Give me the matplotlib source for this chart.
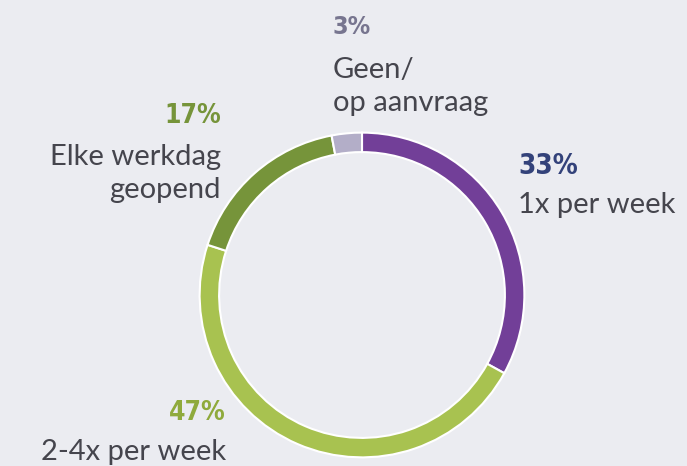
import matplotlib
matplotlib.use("Agg")
import matplotlib.pyplot as plt
from matplotlib import font_manager

categories = ["1x per week", "2-4x per week", "Elke werkdag\ngeopend", "Geen/\nop aanvraag"]
values = [33, 47, 17, 3]
pct_labels = ["33%", "47%", "17%", "3%"]
colors = ["#723f98", "#a8c250", "#76943a", "#b3aec8"]
pct_colors = ["#33427a", "#8faa3c", "#76943a", "#77758f"]

W, H = 687, 466
bg = "#ebecf1"
fig = plt.figure(figsize=(W / 100, H / 100), dpi=100, facecolor=bg)

# donut axes (center ~ (362,295) px, radius ~164 px)
cx, cy, r = 362, 295, 164
ax = fig.add_axes([(cx - r) / W, (H - cy - r) / H, 2 * r / W, 2 * r / H])
ax.set_facecolor(bg)
ax.pie(values, colors=colors, startangle=90, counterclock=False, radius=1,
       wedgeprops=dict(width=0.12, edgecolor="white", linewidth=1.5))
ax.set_xlim(-1.01, 1.01)
ax.set_ylim(-1.01, 1.01)
ax.set_aspect("equal")
ax.axis("off")

names = {f.name for f in font_manager.fontManager.ttflist}
label_font = ["Lato", "DejaVu Sans"]
if "Liberation Sans Narrow" in names:
    pct_font = ["Liberation Sans Narrow", "DejaVu Sans"]
    pct_stretch = "normal"
    scale = 1.1
else:
    pct_font = ["DejaVu Sans"]
    pct_stretch = "condensed"
    scale = 1.0
text_color = "#45454d"

# (x px, pct y px, label first-line y px, ha, pct size)
pos = [
    (518, 166, 205, "left", 20),
    (226, 413, 452, "right", 19),
    (221, 116, 157, "right", 19),
    (333, 27, 70, "left", 18),
]
line_gap = 33
for cat, pct, pc, (x, py, ly, ha, ps) in zip(categories, pct_labels, pct_colors, pos):
    fig.text(x / W, 1 - py / H, pct, color=pc, fontsize=ps * scale, fontweight="bold",
             family=pct_font, fontstretch=pct_stretch, ha=ha, va="center")
    for i, line in enumerate(cat.split("\n")):
        fig.text(x / W, 1 - (ly + i * line_gap) / H, line, color=text_color,
                 fontsize=21, family=label_font, ha=ha, va="center")

fig.savefig("out.png", dpi=100, facecolor=bg)
